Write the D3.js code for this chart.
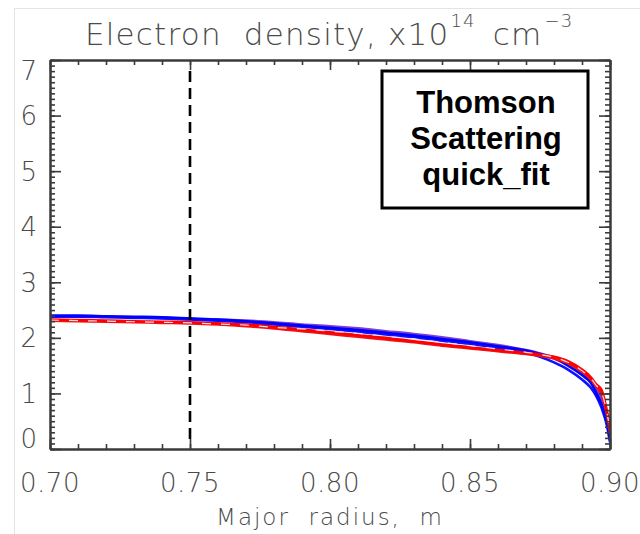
<!DOCTYPE html>
<html>
<head>
<meta charset="utf-8">
<script src="https://cdn.jsdelivr.net/npm/d3@7"></script>
<style>
	body { margin: 0; background: #fff; }
	svg { display: block; }
	text { white-space: pre; }
</style>
</head>
<body>
<svg></svg>
<script>
// data
const radius = [0.700, 0.710, 0.720, 0.730, 0.740, 0.750, 0.760, 0.770, 0.780, 0.790, 0.800, 0.810, 0.820, 0.830, 0.840, 0.850, 0.860, 0.870, 0.875, 0.880, 0.885, 0.890, 0.893, 0.895, 0.897, 0.899, 0.900]
const blueA = [2.40, 2.40, 2.39, 2.38, 2.37, 2.35, 2.33, 2.30, 2.26, 2.22, 2.18, 2.14, 2.09, 2.04, 1.98, 1.92, 1.85, 1.77, 1.71, 1.63, 1.50, 1.33, 1.20, 1.02, 0.80, 0.45, 0.16]
const blueB = [2.38, 2.38, 2.37, 2.36, 2.35, 2.33, 2.31, 2.28, 2.24, 2.20, 2.16, 2.11, 2.06, 2.01, 1.95, 1.89, 1.82, 1.74, 1.66, 1.56, 1.43, 1.25, 1.11, 0.96, 0.74, 0.40, 0.12]
const purple = [2.39, 2.39, 2.38, 2.37, 2.36, 2.34, 2.33, 2.31, 2.28, 2.24, 2.21, 2.17, 2.12, 2.07, 2.01, 1.94, 1.87, 1.78, 1.72, 1.65, 1.54, 1.38, 1.24, 1.10, 0.90, 0.56, 0.26]
const redA = [2.33, 2.32, 2.31, 2.30, 2.29, 2.28, 2.26, 2.24, 2.20, 2.15, 2.10, 2.05, 2.00, 1.94, 1.88, 1.83, 1.78, 1.73, 1.70, 1.66, 1.58, 1.43, 1.30, 1.17, 1.06, 0.66, 0.40]
const redB = [2.31, 2.30, 2.29, 2.28, 2.27, 2.26, 2.24, 2.21, 2.17, 2.12, 2.07, 2.02, 1.97, 1.92, 1.86, 1.81, 1.76, 1.71, 1.68, 1.63, 1.54, 1.39, 1.26, 1.13, 0.99, 0.60, 0.30]
const fitDash = [2.32, 2.31, 2.30, 2.29, 2.28, 2.27, 2.25, 2.23, 2.19, 2.16, 2.12, 2.08, 2.03, 1.98, 1.92, 1.86, 1.80, 1.74, 1.70, 1.65, 1.56, 1.41, 1.28, 1.15, 1.02, 0.63, 0.35]
const xTicks = [0.70, 0.75, 0.80, 0.85, 0.90]
const yTicks = [0, 1, 2, 3, 4, 5, 6, 7]
const markerR = 0.75
const legendLines = ['Thomson', 'Scattering', 'quick_fit']

const WIDTH = 640,
	HEIGHT = 534,
	margin = { top: 60, right: 30, bottom: 85, left: 50 },
	axisColor = '#3a3a3a',
	textColor = '#4a4a4a',
	labelFont = '"DejaVu Sans", sans-serif'

const svg = d3.select( 'svg' )
	.attr( 'width', WIDTH )
	.attr( 'height', HEIGHT )

// faint frame round the picture
svg.append( 'rect' )
	.attr( 'x', 14.5 ).attr( 'y', 8.5 )
	.attr( 'width', WIDTH ).attr( 'height', HEIGHT )
	.attr( 'fill', 'none' )
	.attr( 'stroke', '#e4e4e4' )

const x = d3.scaleLinear().domain( [0.70, 0.90] ).range( [margin.left, WIDTH - margin.right] ),
	y = d3.scaleLinear().domain( [0, 7] ).range( [HEIGHT - margin.bottom, margin.top] )

const g = svg.append( 'g' )

// series lines
const line = d3.line()
	.x( ( d, i ) => x( radius[i] ) )
	.y( d => y( d ) )
	.curve( d3.curveMonotoneX )

const series = [
	{ values: purple, color: '#7f3fd6' },
	{ values: blueB, color: '#1010ff' },
	{ values: blueA, color: '#0000ff' },
	{ values: redB, color: '#f01010' },
	{ values: redA, color: '#ff0000' }
]

g.selectAll( '.series' )
	.data( series )
	.enter().append( 'path' )
	.attr( 'class', 'series' )
	.attr( 'fill', 'none' )
	.attr( 'stroke', d => d.color )
	.attr( 'stroke-width', 2.6 )
	.attr( 'stroke-linejoin', 'round' )
	.attr( 'd', d => line( d.values ) )

g.append( 'path' )
	.attr( 'fill', 'none' )
	.attr( 'stroke', '#f6dce8' )
	.attr( 'stroke-width', 1.2 )
	.attr( 'stroke-dasharray', '9,10' )
	.attr( 'd', line( fitDash ) )

// dashed marker at R = 0.75
g.append( 'line' )
	.attr( 'x1', x( markerR ) ).attr( 'x2', x( markerR ) )
	.attr( 'y1', y( 6.8 ) ).attr( 'y2', y( 0.12 ) )
	.attr( 'stroke', '#000' )
	.attr( 'stroke-width', 2.6 )
	.attr( 'stroke-dasharray', '11,6' )

// axes: major and minor ticks on all four sides
const xMinor = d3.range( 0.70, 0.9001, 0.01 ),
	yMinor = d3.range( 0, 7.001, 0.1 )

function axisGroup( axis, tx, ty ) {
	const a = g.append( 'g' )
		.attr( 'transform', `translate( ${tx}, ${ty} )` )
		.call( axis )
	a.selectAll( 'path, line' ).attr( 'stroke', axisColor ).attr( 'stroke-width', 1.6 )
	a.select( '.domain' ).attr( 'stroke-width', 2 )
	a.selectAll( 'text' ).remove()
	return a
}

const yb = HEIGHT - margin.bottom, xr = WIDTH - margin.right
axisGroup( d3.axisBottom( x ).tickValues( xMinor ).tickSize( -5 ).tickSizeOuter( 0 ), 0, yb )
axisGroup( d3.axisBottom( x ).tickValues( xTicks ).tickSize( -10 ).tickSizeOuter( 0 ), 0, yb )
axisGroup( d3.axisTop( x ).tickValues( xMinor ).tickSize( -5 ).tickSizeOuter( 0 ), 0, margin.top )
axisGroup( d3.axisTop( x ).tickValues( xTicks ).tickSize( -10 ).tickSizeOuter( 0 ), 0, margin.top )
axisGroup( d3.axisLeft( y ).tickValues( yMinor ).tickSize( -5 ).tickSizeOuter( 0 ), margin.left, 0 )
axisGroup( d3.axisLeft( y ).tickValues( yTicks ).tickSize( -11 ).tickSizeOuter( 0 ), margin.left, 0 )
axisGroup( d3.axisRight( y ).tickValues( yMinor ).tickSize( -5 ).tickSizeOuter( 0 ), xr, 0 )
axisGroup( d3.axisRight( y ).tickValues( yTicks ).tickSize( -11 ).tickSizeOuter( 0 ), xr, 0 )

// tick labels
g.selectAll( '.xlab' )
	.data( xTicks )
	.enter().append( 'text' )
	.attr( 'x', d => x( d ) )
	.attr( 'y', yb + 43 )
	.attr( 'text-anchor', 'middle' )
	.attr( 'font-family', labelFont )
	.attr( 'font-weight', 200 )
	.attr( 'font-size', 26 )
	.attr( 'letter-spacing', 0.5 )
	.attr( 'fill', textColor )
	.text( d => d3.format( '.2f' )( d ) )

g.selectAll( '.ylab' )
	.data( yTicks )
	.enter().append( 'text' )
	.attr( 'x', margin.left - 13 )
	.attr( 'y', d => Math.min( Math.max( y( d ), margin.top + 11 ), yb - 10 ) )
	.attr( 'dy', '0.36em' )
	.attr( 'text-anchor', 'end' )
	.attr( 'font-family', labelFont )
	.attr( 'font-weight', 200 )
	.attr( 'font-size', 26 )
	.attr( 'fill', textColor )
	.text( d => d )

// axis title
svg.append( 'text' )
	.attr( 'x', ( margin.left + xr ) / 2 )
	.attr( 'y', 525 )
	.attr( 'text-anchor', 'middle' )
	.attr( 'font-family', labelFont )
	.attr( 'font-weight', 200 )
	.attr( 'font-size', 23 )
	.attr( 'letter-spacing', 2 )
	.attr( 'fill', textColor )
	.text( 'Major  radius,  m' )

// chart title with superscripts
const title = svg.append( 'text' )
	.attr( 'x', 85 )
	.attr( 'y', 45 )
	.attr( 'font-family', labelFont )
	.attr( 'font-weight', 200 )
	.attr( 'font-size', 31 )
	.attr( 'letter-spacing', 1.2 )
	.attr( 'fill', textColor )
title.append( 'tspan' ).text( 'Electron  density, x10' )
title.append( 'tspan' ).attr( 'dy', -18 ).attr( 'font-size', 18 ).attr( 'dx', 1 ).text( '14' )
title.append( 'tspan' ).attr( 'dy', 18 ).attr( 'dx', 6 ).text( ' cm' )
title.append( 'tspan' ).attr( 'dy', -18 ).attr( 'font-size', 18 ).attr( 'dx', 2 ).text( '\u22123' )

// legend box
const box = { x: 382, y: 71, w: 206, h: 137 }
svg.append( 'rect' )
	.attr( 'x', box.x ).attr( 'y', box.y )
	.attr( 'width', box.w ).attr( 'height', box.h )
	.attr( 'fill', '#fff' )
	.attr( 'stroke', '#000' )
	.attr( 'stroke-width', 3 )

svg.selectAll( '.legend' )
	.data( legendLines )
	.enter().append( 'text' )
	.attr( 'x', box.x + box.w / 2 + 1 )
	.attr( 'y', ( d, i ) => box.y + 42 + i * 36 )
	.attr( 'text-anchor', 'middle' )
	.attr( 'font-family', '"Liberation Sans", Arial, sans-serif' )
	.attr( 'font-weight', 'bold' )
	.attr( 'font-size', 31 )
	.attr( 'fill', '#000' )
	.text( d => d )
</script>
</body>
</html>
